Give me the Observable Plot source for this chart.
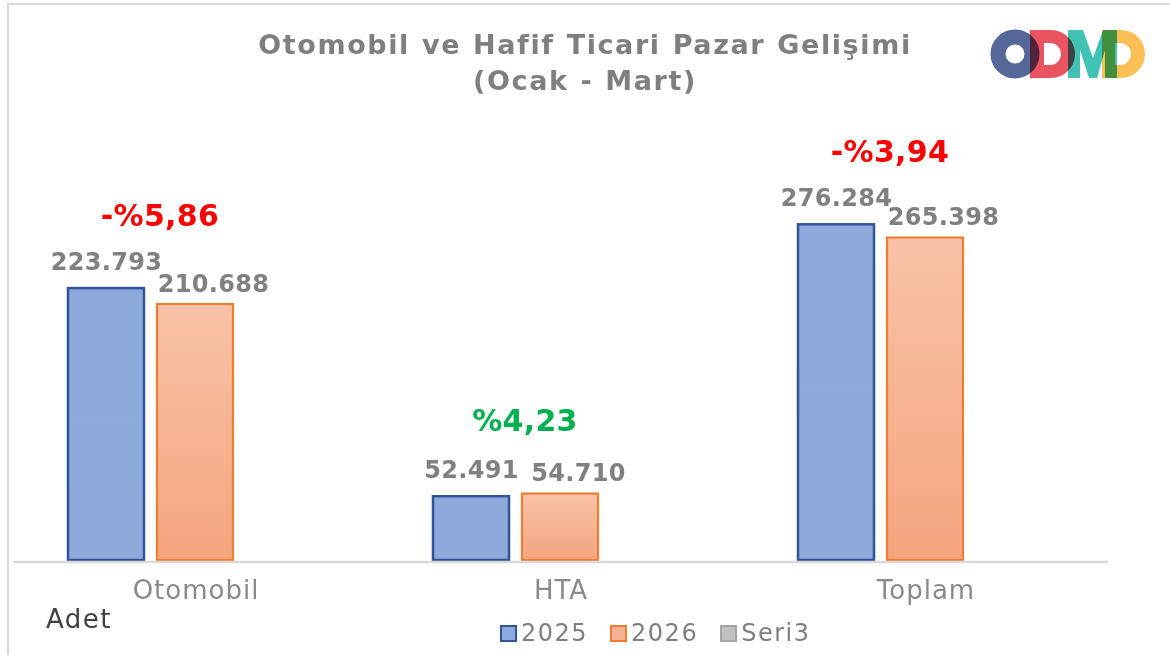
<!DOCTYPE html>
<html><head><meta charset="utf-8">
<script src="https://cdn.jsdelivr.net/npm/d3@7"></script>
<script src="https://cdn.jsdelivr.net/npm/@observablehq/plot@0.6"></script>
<style>
body{margin:0;background:#fff;}
#wrap{position:relative;width:1170px;height:655px;overflow:hidden;font-family:"DejaVu Sans",sans-serif;background:#fff;}
#frame{position:absolute;left:7px;top:3px;width:1200px;height:700px;border-left:2px solid #d9d9d9;border-top:2px solid #d9d9d9;}
#chart{position:absolute;left:0;top:0;}
#title{position:absolute;left:0;width:1170px;top:27px;text-align:center;font-weight:bold;font-size:27px;color:#7f7f7f;line-height:36px;letter-spacing:1.6px;word-spacing:1px;}
#logo{position:absolute;left:0;top:0;}
#adet{position:absolute;left:46px;top:604px;font-size:26px;color:#404040;letter-spacing:1.5px;}
#legend{position:absolute;left:500px;top:619px;display:flex;align-items:center;font-size:24px;color:#7f7f7f;letter-spacing:1.5px;}
#legend .item{display:flex;align-items:center;margin-right:22px;}
#legend .sw{width:13px;height:13px;margin-right:4px;border:2px solid;}
</style></head>
<body>
<div id="wrap">
  <div id="frame"></div>
  <div id="chart"></div>
  <div id="title">Otomobil ve Hafif Ticari Pazar Gelişimi<br>(Ocak - Mart)</div>
  <svg id="logo" width="1170" height="100">
    <g style="isolation:isolate">
      <circle cx="1015" cy="54" r="17" fill="none" stroke="#56689a" stroke-width="15" style="mix-blend-mode:multiply"/>
      <path fill="#ea5461" fill-rule="evenodd" style="mix-blend-mode:multiply" d="M1030,30 H1051 A24,24 0 0 1 1051,78 H1030 Z M1044,43 H1050 A11,11 0 0 1 1050,65 H1044 Z"/>
      <path fill="#42c1b5" style="mix-blend-mode:multiply" d="M1068,78 V30 H1083 L1093,58 L1103,30 H1117 V78 H1105 V50 L1097,78 H1089 L1080,50 V78 Z"/>
      <path fill="#fbbf55" fill-rule="evenodd" style="mix-blend-mode:multiply" d="M1102,30 H1121 A24,24 0 0 1 1121,78 H1102 Z M1115,43 H1120 A11,11 0 0 1 1120,65 H1115 Z"/>
    </g>
  </svg>
  <div id="adet">Adet</div>
  <div id="legend"></div>
</div>
<script>
const categories = ["Otomobil", "HTA", "Toplam"];
const seriesNames = ["2025", "2026", "Seri3"];
const values2025 = [223793, 52491, 276284];
const values2026 = [210688, 54710, 265398];
const changeLabels = ["-%5,86", "%4,23", "-%3,94"];

const rows2025 = categories.map((c, i) => ({cat: c, series: "2025", value: values2025[i]}));
const rows2026 = categories.map((c, i) => ({cat: c, series: "2026", value: values2026[i]}));
const changes = categories.map((c, i) => ({
  cat: c, label: changeLabels[i], top: Math.max(values2025[i], values2026[i]),
  color: changeLabels[i].startsWith("-") ? "#ff0000" : "#00b050"
}));

const tr = d3.formatLocale({decimal: ",", thousands: ".", grouping: [3], currency: ["", ""]});
const fmt = tr.format(",d");

const chart = Plot.plot({
  width: 1170, height: 655,
  marginLeft: 13, marginRight: 62, marginTop: 74, marginBottom: 95,
  style: {background: "transparent", fontFamily: "DejaVu Sans", fontSize: "26px", color: "#8a8a8a", letterSpacing: "1px"},
  fx: {domain: categories, padding: 0, axis: "bottom", label: null, tickSize: 0, tickPadding: 20},
  x: {domain: seriesNames, paddingInner: 0.144, paddingOuter: 0.6, axis: null},
  y: {domain: [0, 400000], axis: null},
  color: {type: "identity"},
  marks: [
    Plot.barY(rows2025, {fx: "cat", x: "series", y: "value", fill: "url(#gBlue)", stroke: "#2f5597", strokeWidth: 2.5}),
    Plot.barY(rows2026, {fx: "cat", x: "series", y: "value", fill: "url(#gOrange)", stroke: "#ed7d31", strokeWidth: 2.2}),
    Plot.ruleY([0], {stroke: "#d9d9d9", strokeWidth: 2.5, dy: 1.5}),
    Plot.text(rows2025, {fx: "cat", x: "series", y: "value", text: d => fmt(d.value), dy: -19, lineAnchor: "bottom", fontSize: 24, fontWeight: "bold", fill: "#808080"}),
    Plot.text(rows2026, {fx: "cat", x: "series", y: "value", text: d => fmt(d.value), dx: 18, dy: -13, lineAnchor: "bottom", fontSize: 24, fontWeight: "bold", fill: "#808080"}),
    Plot.text(changes, {fx: "cat", y: "top", text: "label", fill: "color", dx: -36, dy: -63, lineAnchor: "bottom", fontSize: 30, fontWeight: "bold"})
  ]
});

const svg = d3.select(chart);
svg.selectAll("g[aria-label='text'] text").style("letter-spacing", "0.3px");
const defs = svg.insert("defs", ":first-child");
const gb = defs.append("linearGradient").attr("id", "gBlue").attr("x1", 0).attr("y1", 0).attr("x2", 0).attr("y2", 1);
gb.append("stop").attr("offset", "0%").attr("stop-color", "#8eaadc");
gb.append("stop").attr("offset", "100%").attr("stop-color", "#8fa9dc");
const go = defs.append("linearGradient").attr("id", "gOrange").attr("x1", 0).attr("y1", 0).attr("x2", 0).attr("y2", 1);
go.append("stop").attr("offset", "0%").attr("stop-color", "#f8c2a6");
go.append("stop").attr("offset", "100%").attr("stop-color", "#f4a57f");
document.getElementById("chart").appendChild(chart);

const legendItems = [
  {name: "2025", fill: "#8faadc", stroke: "#2f5597"},
  {name: "2026", fill: "#f6b190", stroke: "#ed7d31"},
  {name: "Seri3", fill: "#c0c0c0", stroke: "#a5a5a5"}
];
const lg = d3.select("#legend");
legendItems.forEach(it => {
  const item = lg.append("div").attr("class", "item");
  item.append("div").attr("class", "sw").style("background", it.fill).style("border-color", it.stroke);
  item.append("span").text(it.name);
});
</script>
</body></html>
